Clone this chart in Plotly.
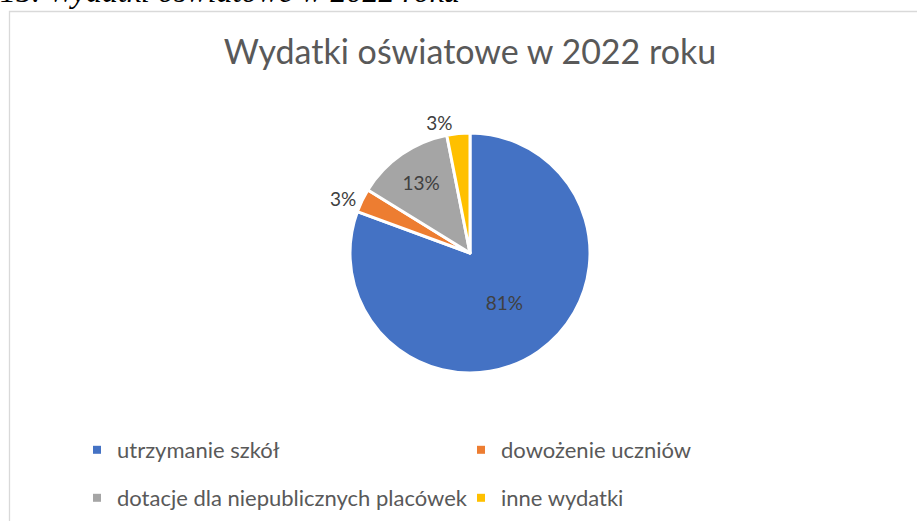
import plotly.graph_objects as go

# ---- data ----
categories = ["utrzymanie szkół", "dowożenie uczniów",
              "dotacje dla niepublicznych placówek", "inne wydatki"]
shares = [80.6, 3.2, 13.1, 3.1]          # estimated share of spending (%)
colors = ["#4472C4", "#ED7D31", "#A5A5A5", "#FFC000"]
label_pos = ["inside", "outside", "inside", "outside"]
title_text = "Wydatki oświatowe w 2022 roku"
caption_text = "15. Wydatki oświatowe w 2022 roku"

W, H = 917, 521

fig = go.Figure()

fig.add_trace(go.Pie(
    labels=categories,
    values=shares,
    sort=False,
    direction="clockwise",
    rotation=0,
    marker=dict(colors=colors, line=dict(color="white", width=3)),
    texttemplate="%{percent:.0%}",
    textposition=label_pos,
    insidetextorientation="horizontal",
    textfont=dict(family="Lato", size=19, color="#404040"),
    domain=dict(x=[350 / W, 590 / W], y=[(H - 373) / H, (H - 133) / H]),
    showlegend=False,
    automargin=False,
    hoverinfo="label+percent",
))

# legend entries (two rows, two columns)
for i, (name, col) in enumerate(zip(categories, colors)):
    fig.add_trace(go.Scatter(
        x=[None], y=[None], mode="markers", name=name,
        marker=dict(symbol="square", size=8, color=col),
        legend="legend" if i < 2 else "legend2",
        hoverinfo="skip",
    ))

legend_common = dict(
    orientation="h", xref="paper", yref="paper",
    xanchor="left", yanchor="top", x=77 / W,
    entrywidth=339, entrywidthmode="pixels",
    font=dict(family="Lato", size=22, color="#595959"),
    bgcolor="rgba(0,0,0,0)", borderwidth=0,
)

fig.update_layout(
    width=W, height=H,
    margin=dict(l=0, r=0, t=0, b=0, autoexpand=False),
    paper_bgcolor="white", plot_bgcolor="white",
    xaxis=dict(visible=False), yaxis=dict(visible=False),
    title=dict(text=title_text, x=470 / W, xanchor="center", xref="container",
               y=1 - 52 / H, yanchor="middle", yref="container",
               font=dict(family="Lato", size=34, color="#595959")),
    legend=dict(legend_common, y=1 - 429 / H),
    legend2=dict(legend_common, y=1 - 477 / H),
    shapes=[dict(type="rect", xref="paper", yref="paper",
                 x0=9.5 / W, x1=1.2, y0=-0.2, y1=1 - 11.5 / H,
                 line=dict(color="#D9D9D9", width=1.3), fillcolor="rgba(0,0,0,0)",
                 layer="below")],
    annotations=[dict(text=caption_text, xref="paper", yref="paper",
                      x=-2 / W, y=1 + 9.5 / H, xanchor="left", yanchor="middle",
                      showarrow=False,
                      font=dict(family="Liberation Serif", size=32, color="#000000",
                                style="italic"))],
)

fig.write_html("out.html",
               config={"displayModeBar": False},
               post_script="document.body.style.margin='0';")
